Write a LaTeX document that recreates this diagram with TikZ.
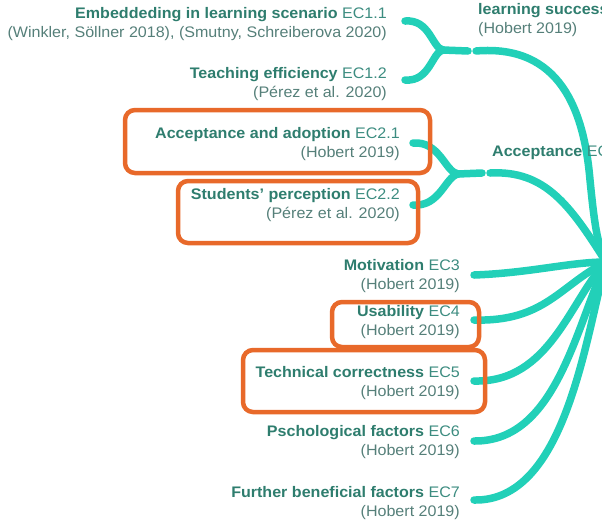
\documentclass[tikz,border=0pt]{standalone}
\usepackage{fontspec}
\setmainfont[FakeStretch=1.05]{Liberation Sans}
\begin{document}
\begin{tikzpicture}[x=1pt,y=-1pt,
  branch/.style={draw=teal0,line width=7.5pt,line cap=round},
  hl/.style={draw=orange0,line width=4.5pt,rounded corners=10pt},
  lbl/.style={align=right,inner sep=0pt,font=\fontsize{15.3}{19}\selectfont},
  lblL/.style={align=left,inner sep=0pt,font=\fontsize{15.3}{19}\selectfont}]
\definecolor{teal0}{HTML}{22D0B8}
\definecolor{orange0}{HTML}{E8692A}
\definecolor{ttl}{HTML}{2E7D6E}
\definecolor{ecc}{HTML}{3C8C80}
\definecolor{cit}{HTML}{557F79}
\newcommand{\ttlx}[2]{{\color{ttl}\bfseries #1} {\color{ecc}#2}}
\newcommand{\citx}[1]{{\color{cit}#1}}
\useasboundingbox (0,0) rectangle (602,523);
\begin{scope}
\clip (0,0) rectangle (602,523);
% coordinates
\coordinate (hub) at (606,262);
\coordinate (e11) at (405,21);
\coordinate (e12) at (405,80);
\coordinate (j1) at (443,50);
\coordinate (s1) at (468,51);
\coordinate (m1) at (476,51);
\coordinate (e21) at (413,143);
\coordinate (e22) at (413,205);
\coordinate (j2) at (458,174);
\coordinate (s2) at (482,173);
\coordinate (m2) at (490,173);
\coordinate (e3) at (474,275);
\coordinate (e4) at (474,320);
\coordinate (e5) at (474,381);
\coordinate (e6) at (474,441);
\coordinate (e7) at (474,500);
% branches
\draw[branch] (e11) .. controls (430,19) and (432,48) .. (j1);
\draw[branch] (e12) .. controls (430,82) and (432,52) .. (j1);
\draw[branch] (j1) -- (s1);
\draw[branch] (m1) .. controls (560,44) and (584,110) .. (590,180) .. controls (594,220) and (597,245) .. (hub);
\draw[branch] (e21) .. controls (440,141) and (445,172) .. (j2);
\draw[branch] (e22) .. controls (440,207) and (445,177) .. (j2);
\draw[branch] (j2) -- (s2);
\draw[branch] (m2) .. controls (545,170) and (570,205) .. (hub);
\draw[branch] (e3) .. controls (530,273) and (570,262) .. (hub);
\draw[branch] (e4) .. controls (545,322) and (560,285) .. (hub);
\draw[branch] (e5) .. controls (550,383) and (570,300) .. (hub);
\draw[branch] (e6) .. controls (555,442) and (575,330) .. (hub);
\draw[branch] (e7) .. controls (565,502) and (585,340) .. (hub);
% labels
\node[lbl,anchor=east] (n11) at (387,24) {\ttlx{Embeddeding in learning scenario}{EC1.1}\\\citx{(Winkler, Söllner 2018), (Smutny, Schreiberova 2020)}};
\node[lbl,anchor=east] (n12) at (387,84) {\ttlx{Teaching efficiency}{EC1.2}\\\citx{(Pérez et al. 2020)}};
\node[lbl,anchor=east] (n21) at (400,144) {\ttlx{Acceptance and adoption}{EC2.1}\\\citx{(Hobert 2019)}};
\node[lbl,anchor=east] (n22) at (400,205) {\ttlx{Students' perception}{EC2.2}\\\citx{(Pérez et al. 2020)}};
\node[lbl,anchor=east] (n3) at (460,276) {\ttlx{Motivation}{EC3}\\\citx{(Hobert 2019)}};
\node[lbl,anchor=east] (n4) at (460,322) {\ttlx{Usability}{EC4}\\\citx{(Hobert 2019)}};
\node[lbl,anchor=east] (n5) at (460,383) {\ttlx{Technical correctness}{EC5}\\\citx{(Hobert 2019)}};
\node[lbl,anchor=east] (n6) at (460,442) {\ttlx{Pschological factors}{EC6}\\\citx{(Hobert 2019)}};
\node[lbl,anchor=east] (n7) at (460,503) {\ttlx{Further beneficial factors}{EC7}\\\citx{(Hobert 2019)}};
\node[lblL,anchor=west] (n1) at (478,20) {{\color{ttl}\bfseries learning success}\\\citx{(Hobert 2019)}};
\node[lblL,anchor=west] (n2) at (492,153) {\ttlx{Acceptance}{EC}};
\end{scope}
% highlight boxes
\draw[hl] (125,110) rectangle (430,173);
\draw[hl] (178,181) rectangle (418,243);
\draw[hl] (332,302) rectangle (479,347);
\draw[hl] (243,350) rectangle (485,412);
\end{tikzpicture}
\end{document}
